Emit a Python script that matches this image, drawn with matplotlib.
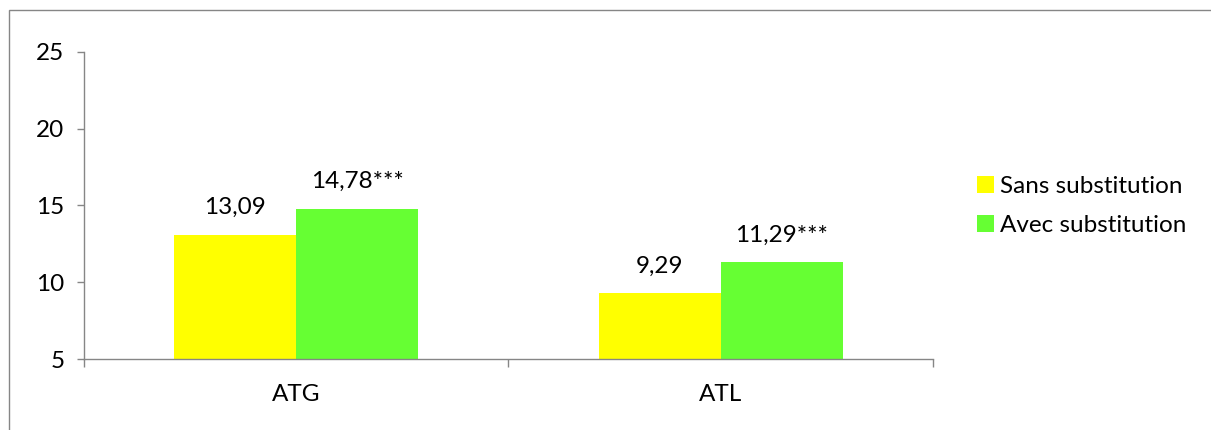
import numpy as np
import matplotlib.pyplot as plt
from matplotlib.patches import Rectangle

categories = ['ATG', 'ATL']
series_names = ['Sans substitution', 'Avec substitution']
sans = [13.09, 9.29]
avec = [14.78, 11.29]
labels_sans = ['13,09', '9,29']
labels_avec = ['14,78***', '11,29***']
yticks = [5, 10, 15, 20, 25]

plt.rcParams['font.family'] = ['Lato', 'DejaVu Sans']
FS = 17.5
GRAY = '#868686'

fig = plt.figure(figsize=(12.11, 4.30), dpi=100)
ax = fig.add_axes([84 / 1211, 71 / 430, (933 - 84) / 1211, (359 - 52) / 430])

x = np.arange(len(categories))
w = 0.287
b1 = ax.bar(x - w / 2, np.array(sans) - 5, w, bottom=5, color='#FFFF00', label=series_names[0])
b2 = ax.bar(x + w / 2, np.array(avec) - 5, w, bottom=5, color='#66FF33', label=series_names[1])

for bars, vals, labs in ((b1, sans, labels_sans), (b2, avec, labels_avec)):
    for rect, v, lab in zip(bars, vals, labs):
        ax.annotate(lab, (rect.get_x() + rect.get_width() / 2, v),
                    xytext=(0, 12), textcoords='offset points',
                    ha='center', va='bottom', fontsize=FS)

ax.set_xlim(-0.5, len(categories) - 0.5)
ax.set_ylim(5, 25)
ax.set_yticks(yticks)
ax.set_yticklabels([str(t) for t in yticks], fontsize=FS)
ax.tick_params(axis='y', length=5, width=1, color=GRAY, pad=9)

ax.set_xticks(x)
ax.set_xticklabels(categories, fontsize=FS)
ax.tick_params(axis='x', which='major', length=0, pad=18)
ax.set_xticks(np.arange(-0.5, len(categories)), minor=True)
ax.tick_params(axis='x', which='minor', length=6, width=1, color=GRAY, direction='out')

for s in ('top', 'right'):
    ax.spines[s].set_visible(False)
for s in ('left', 'bottom'):
    ax.spines[s].set_color(GRAY)
    ax.spines[s].set_linewidth(1)

fig.legend(loc='center left', bbox_to_anchor=(977 / 1211, 1 - 206 / 430),
           frameon=False, fontsize=FS, handlelength=0.68, handleheight=0.68,
           handletextpad=0.25, labelspacing=0.75, borderpad=0, borderaxespad=0)

# outer chart border (only top and left edges fall inside the picture)
fig.patches.append(Rectangle((9 / 1211, -0.1), 1.2, 1.1 - 10 / 430,
                             transform=fig.transFigure, fill=False,
                             edgecolor=GRAY, linewidth=1))

fig.savefig('out.png', dpi=100)
